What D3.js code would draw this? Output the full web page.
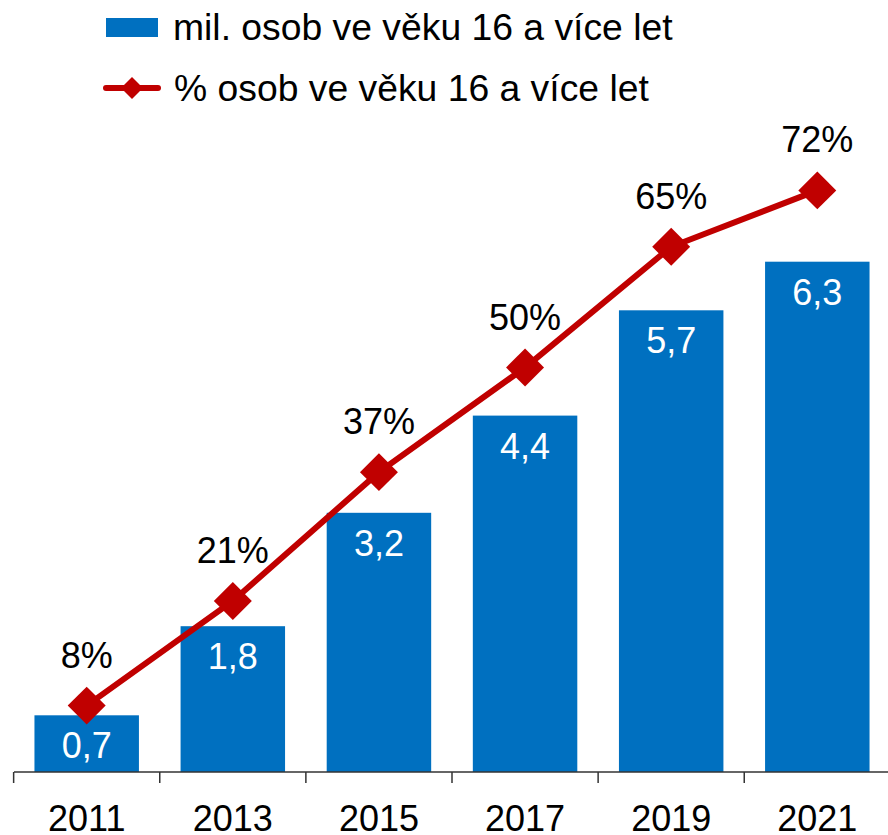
<!DOCTYPE html>
<html>
<head>
<meta charset="utf-8">
<script src="https://cdn.jsdelivr.net/npm/d3@7"></script>
<style>
  body { margin: 0; background: #fff; }
  svg text { font-family: "Liberation Sans", Arial, sans-serif; }
</style>
</head>
<body>
<svg id="chart" width="888" height="835"></svg>
<script>
// data
var years = ["2011", "2013", "2015", "2017", "2019", "2021"];
var millions = [0.7, 1.8, 3.2, 4.4, 5.7, 6.3];
var percents = [8, 21, 37, 50, 65, 72];
var seriesNames = ["mil. osob ve věku 16 a více let", "% osob ve věku 16 a více let"];

var blue = "#0070C0", red = "#C00000";
var svg = d3.select("#chart");

var baseY = 772;
var x = d3.scaleBand().domain(years).range([14, 890]).paddingInner(0.285).paddingOuter(0.14);
var y = d3.scaleLinear().domain([0, 8]).range([baseY, 124]);
var y2 = d3.scaleLinear().domain([0, 80]).range([770, 126]);

// bars
svg.selectAll("rect.bar").data(millions).enter().append("rect")
  .attr("class", "bar")
  .attr("x", function(d, i) { return x(years[i]); })
  .attr("y", function(d) { return y(d); })
  .attr("width", x.bandwidth())
  .attr("height", function(d) { return baseY - y(d); })
  .attr("fill", blue);

svg.selectAll("text.barlab").data(millions).enter().append("text")
  .attr("x", function(d, i) { return x(years[i]) + x.bandwidth() / 2; })
  .attr("y", function(d) { return y(d) + 43; })
  .attr("text-anchor", "middle")
  .attr("font-size", 36)
  .attr("fill", "#fff")
  .text(function(d) { return String(d).replace(".", ","); });

// x axis: line plus ticks at band boundaries
var step = x.step();
svg.append("line").attr("x1", 14).attr("x2", 888).attr("y1", baseY).attr("y2", baseY)
  .attr("stroke", "#333").attr("stroke-width", 1.5);
var bounds = d3.range(years.length).map(function(i) { return x(years[i]) - (step - x.bandwidth()) / 2; });
svg.selectAll("line.tick").data(bounds).enter().append("line")
  .attr("x1", function(d) { return d; }).attr("x2", function(d) { return d; })
  .attr("y1", baseY).attr("y2", baseY + 11)
  .attr("stroke", "#333").attr("stroke-width", 1.5);

svg.selectAll("text.year").data(years).enter().append("text")
  .attr("x", function(d) { return x(d) + x.bandwidth() / 2; })
  .attr("y", 831)
  .attr("text-anchor", "middle")
  .attr("font-size", 36)
  .attr("fill", "#000")
  .text(function(d) { return d; });

// line series
var cx = function(i) { return x(years[i]) + x.bandwidth() / 2; };
var line = d3.line().x(function(d, i) { return cx(i); }).y(function(d) { return y2(d); });
svg.append("path").datum(percents)
  .attr("d", line)
  .attr("fill", "none")
  .attr("stroke", red)
  .attr("stroke-width", 6);

var diamond = d3.symbol().type(d3.symbolSquare).size(720);
svg.selectAll("path.pt").data(percents).enter().append("path")
  .attr("d", diamond)
  .attr("transform", function(d, i) { return "translate(" + cx(i) + "," + y2(d) + ") rotate(45)"; })
  .attr("fill", red);

svg.selectAll("text.pct").data(percents).enter().append("text")
  .attr("x", function(d, i) { return cx(i); })
  .attr("y", function(d) { return y2(d) - 38; })
  .attr("text-anchor", "middle")
  .attr("font-size", 36)
  .attr("fill", "#000")
  .text(function(d) { return d + "%"; });

// legend
var lg = svg.append("g");
lg.append("rect").attr("x", 106).attr("y", 18).attr("width", 52).attr("height", 19).attr("fill", blue);
lg.append("text").attr("x", 173).attr("y", 40).attr("font-size", 37.3).text(seriesNames[0]);
lg.append("line").attr("x1", 106).attr("x2", 158).attr("y1", 88).attr("y2", 88)
  .attr("stroke", red).attr("stroke-width", 6).attr("stroke-linecap", "round");
lg.append("path").attr("d", d3.symbol().type(d3.symbolSquare).size(240))
  .attr("transform", "translate(132,88) rotate(45)").attr("fill", red);
lg.append("text").attr("x", 174).attr("y", 101).attr("font-size", 37.3).text(seriesNames[1]);
</script>
</body>
</html>
